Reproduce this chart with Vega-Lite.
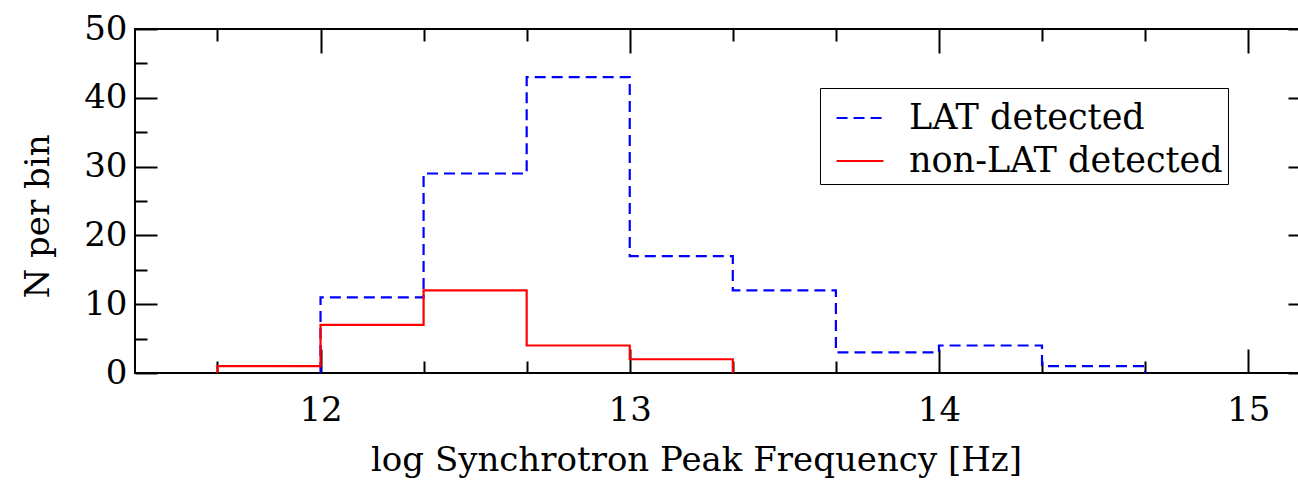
{
  "$schema": "https://vega.github.io/schema/vega-lite/v6.json",
  "autosize": {"type": "none"},
  "padding": {"left": 135, "top": 29, "right": 0, "bottom": 113},
  "width": 1175,
  "height": 344,
  "background": "white",
  "config": {
    "view": {"stroke": "black", "strokeWidth": 2},
    "font": "DejaVu Serif",
    "axis": {
      "domain": false,
      "grid": false,
      "tickColor": "black",
      "tickWidth": 2,
      "labelFont": "DejaVu Serif",
      "labelColor": "black",
      "labelFontSize": 34,
      "titleFont": "DejaVu Serif",
      "titleFontWeight": "normal",
      "titleColor": "black",
      "titleFontSize": 34
    },
    "legend": {"labelFont": "DejaVu Serif"}
  },
  "data": {
    "values": [
      {"series": "LAT detected", "i": 0, "x": 12.0, "n": 0},
      {"series": "LAT detected", "i": 1, "x": 12.0, "n": 11},
      {"series": "LAT detected", "i": 2, "x": 12.3333, "n": 29},
      {"series": "LAT detected", "i": 3, "x": 12.6667, "n": 43},
      {"series": "LAT detected", "i": 4, "x": 13.0, "n": 17},
      {"series": "LAT detected", "i": 5, "x": 13.3333, "n": 12},
      {"series": "LAT detected", "i": 6, "x": 13.6667, "n": 3},
      {"series": "LAT detected", "i": 7, "x": 14.0, "n": 4},
      {"series": "LAT detected", "i": 8, "x": 14.3333, "n": 1},
      {"series": "LAT detected", "i": 9, "x": 14.6667, "n": 0},
      {"series": "non-LAT detected", "i": 0, "x": 11.6667, "n": 0},
      {"series": "non-LAT detected", "i": 1, "x": 11.6667, "n": 1},
      {"series": "non-LAT detected", "i": 2, "x": 12.0, "n": 7},
      {"series": "non-LAT detected", "i": 3, "x": 12.3333, "n": 12},
      {"series": "non-LAT detected", "i": 4, "x": 12.6667, "n": 4},
      {"series": "non-LAT detected", "i": 5, "x": 13.0, "n": 2},
      {"series": "non-LAT detected", "i": 6, "x": 13.3333, "n": 0}
    ]
  },
  "resolve": {"axis": {"x": "independent", "y": "independent"}},
  "layer": [
    {
      "mark": {"type": "line", "interpolate": "step-after", "strokeWidth": 2.2},
      "encoding": {
        "x": {"field": "x", "type": "quantitative", "scale": {"domain": [11.4, 15.2], "nice": false, "zero": false},
          "axis": {"orient": "bottom", "values": [12, 13, 14, 15], "tickSize": -24, "labelPadding": 44, "title": "log Synchrotron Peak Frequency [Hz]", "titlePadding": 16, "titleX": 561}},
        "y": {"field": "n", "type": "quantitative", "scale": {"domain": [0, 50], "nice": false},
          "axis": {"orient": "left", "values": [0, 10, 20, 30, 40, 50], "tickSize": -22, "labelPadding": 30, "title": "N per bin", "titleFontSize": 34, "titlePadding": 28, "titleY": 187}},
        "color": {"field": "series", "type": "nominal",
          "scale": {"domain": ["LAT detected", "non-LAT detected"], "range": ["#0000ff", "#ff0000"]},
          "legend": {"title": null, "orient": "none", "legendX": 685, "legendY": 59,
            "strokeColor": "black", "padding": 5, "symbolOffset": 10, "symbolType": "stroke", "symbolSize": 2200,
            "symbolStrokeWidth": 2.2, "labelFontSize": 35,
            "labelColor": "black", "labelOffset": 24, "rowPadding": -6, "labelLimit": 400}},
        "strokeDash": {"field": "series", "type": "nominal",
          "scale": {"domain": ["LAT detected", "non-LAT detected"], "range": [[11, 6], [1, 0]]}},
        "order": {"field": "i", "type": "quantitative"}
      }
    },
    {
      "mark": {"type": "line", "opacity": 0},
      "encoding": {
        "x": {"field": "x", "type": "quantitative",
          "axis": {"orient": "bottom", "values": [11.6667, 12.3333, 12.6667, 13.3333, 13.6667, 14.3333, 14.6667], "tickSize": -12, "labels": false, "title": null}},
        "y": {"field": "n", "type": "quantitative",
          "axis": {"orient": "left", "values": [5, 15, 25, 35, 45], "tickSize": -12, "labels": false, "title": null}}
      }
    },
    {
      "mark": {"type": "line", "opacity": 0},
      "encoding": {
        "x": {"field": "x", "type": "quantitative",
          "axis": {"orient": "top", "values": [12, 13, 14, 15], "tickSize": -24, "labels": false, "title": null}},
        "y": {"field": "n", "type": "quantitative",
          "axis": {"orient": "right", "values": [0, 10, 20, 30, 40, 50], "tickSize": -22, "labels": false, "title": null}}
      }
    },
    {
      "mark": {"type": "line", "opacity": 0},
      "encoding": {
        "x": {"field": "x", "type": "quantitative",
          "axis": {"orient": "top", "values": [11.6667, 12.3333, 12.6667, 13.3333, 13.6667, 14.3333, 14.6667], "tickSize": -12, "labels": false, "title": null}},
        "y": {"field": "n", "type": "quantitative",
          "axis": {"orient": "right", "values": [5, 15, 25, 35, 45], "tickSize": -12, "labels": false, "title": null}}
      }
    }
  ]
}
